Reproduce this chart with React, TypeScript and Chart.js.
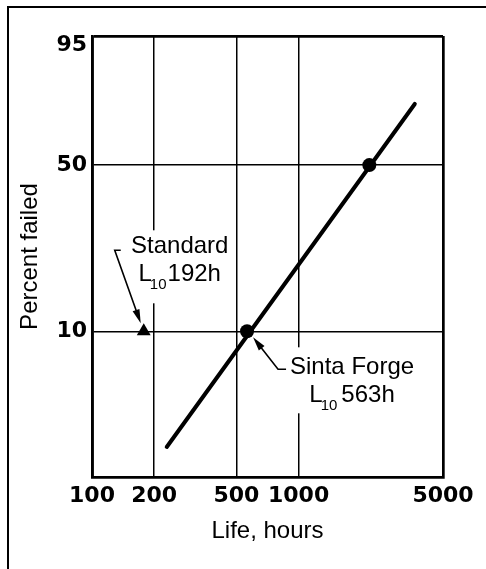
import React, { useEffect, useRef } from 'react';
import { Chart, registerables, LinearScale } from 'chart.js';

// ---- data ----
const X_TICKS = [100, 200, 500, 1000, 5000];
const Y_TICKS = [10, 50, 95];
const X_MIN = 100;
const X_MAX = 5000;
const Y_MIN = 2;
const Y_MAX = 95;

const SINTA_FIT_HOURS = [230, 3650];
const SINTA_FIT_PCT = [2.8, 75];
const SINTA_HOURS = [563, 2200];
const SINTA_PCT = [10, 50];
const STANDARD_HOURS = [178];
const STANDARD_PCT = [10];

const STANDARD_LABEL = ['Standard', 'L', '10', '192h'];
const SINTA_LABEL = ['Sinta Forge', 'L', '10', '563h'];
const X_TITLE = 'Life, hours';
const Y_TITLE = 'Percent failed';

// ---- Weibull probability scale ----
const weib = (p: number) => Math.log(-Math.log(1 - p / 100));

class WeibullScale extends LinearScale {
  static id = 'weibull';
  static defaults = {};
  determineDataLimits() {
    const o: any = this.options;
    this.min = o.min;
    this.max = o.max;
  }
  buildTicks() {
    const o: any = this.options;
    const vals: number[] = o.tickValues || Y_TICKS;
    return vals.map((v) => ({ value: v }));
  }
  getPixelForValue(value: number) {
    const a = weib(this.min);
    const b = weib(this.max);
    return this.getPixelForDecimal((weib(value) - a) / (b - a));
  }
  getValueForPixel(pixel: number) {
    const a = weib(this.min);
    const b = weib(this.max);
    const w = a + this.getDecimalForPixel(pixel) * (b - a);
    return 100 * (1 - Math.exp(-Math.exp(w)));
  }
}

Chart.register(...registerables, WeibullScale as any);

const TEXT_FAMILY = '"Liberation Sans", Arial, Helvetica, sans-serif';
const MAIN_FONT = `24px ${TEXT_FAMILY}`;
const SUB_FONT = `15px ${TEXT_FAMILY}`;
const TICK_FONT = { family: '"DejaVu Sans", sans-serif', size: 22, weight: 'bold' };

// callouts anchored to data points (offsets in px from the marker)
const CALLOUTS = [
  {
    dataset: 2,
    index: 0,
    text: STANDARD_LABEL,
    tx: 36,
    ty1: -78,
    ty2: -50,
    box: [-18, -101, 108, 73],
    hook: [-23, -81],
    corner: [-29, -81],
    tip: [-3, -8],
    gap: 1,
  },
  {
    dataset: 1,
    index: 0,
    text: SINTA_LABEL,
    tx: 105,
    ty1: 43,
    ty2: 71,
    box: [39, 16, 134, 66],
    hook: [39, 38],
    corner: [31, 38],
    tip: [6, 6],
    gap: 4,
  },
];

const calloutPlugin = {
  id: 'callouts',
  afterDatasetsDraw(chart: any) {
    const ctx: CanvasRenderingContext2D = chart.ctx;
    CALLOUTS.forEach((c) => {
      const el = chart.getDatasetMeta(c.dataset).data[c.index];
      if (!el) return;
      const px = el.x;
      const py = el.y;
      ctx.save();
      ctx.fillStyle = '#fff';
      ctx.fillRect(px + c.box[0], py + c.box[1], c.box[2], c.box[3]);

      ctx.fillStyle = '#000';
      ctx.textBaseline = 'alphabetic';
      ctx.textAlign = 'center';
      ctx.font = MAIN_FONT;
      ctx.fillText(c.text[0], px + c.tx, py + c.ty1);

      ctx.textAlign = 'left';
      ctx.font = MAIN_FONT;
      const wL = ctx.measureText(c.text[1]).width;
      const wR = ctx.measureText(c.text[3]).width;
      ctx.font = SUB_FONT;
      const wS = ctx.measureText(c.text[2]).width;
      const total = wL - 2 + wS + c.gap + wR;
      let x = px + c.tx - total / 2;
      const base = py + c.ty2;
      ctx.font = MAIN_FONT;
      ctx.fillText(c.text[1], x, base);
      x += wL - 2;
      ctx.font = SUB_FONT;
      ctx.fillText(c.text[2], x, base + 8);
      x += wS + c.gap;
      ctx.font = MAIN_FONT;
      ctx.fillText(c.text[3], x, base);

      // arrow
      const hx = px + c.hook[0], hy = py + c.hook[1];
      const cx = px + c.corner[0], cy = py + c.corner[1];
      const tx = px + c.tip[0], ty = py + c.tip[1];
      const dx = tx - cx, dy = ty - cy;
      const len = Math.hypot(dx, dy);
      const ux = dx / len, uy = dy / len;
      const headLen = 14, headHalf = 3.6;
      const bx = tx - ux * headLen, by = ty - uy * headLen;
      ctx.strokeStyle = '#000';
      ctx.lineWidth = 1.6;
      ctx.lineJoin = 'miter';
      ctx.beginPath();
      ctx.moveTo(hx, hy);
      ctx.lineTo(cx, cy);
      ctx.lineTo(bx + ux * 2, by + uy * 2);
      ctx.stroke();
      ctx.beginPath();
      ctx.moveTo(tx, ty);
      ctx.lineTo(bx - uy * headHalf, by + ux * headHalf);
      ctx.lineTo(bx + uy * headHalf, by - ux * headHalf);
      ctx.closePath();
      ctx.fill();
      ctx.restore();
    });
  },
};

export default function App() {
  const ref = useRef<HTMLCanvasElement | null>(null);

  useEffect(() => {
    if (!ref.current) return;
    const fitData = SINTA_FIT_HOURS.map((h, i) => ({ x: h, y: SINTA_FIT_PCT[i] }));
    const sintaData = SINTA_HOURS.map((h, i) => ({ x: h, y: SINTA_PCT[i] }));
    const stdData = STANDARD_HOURS.map((h, i) => ({ x: h, y: STANDARD_PCT[i] }));

    const edgeX = (ctx: any) =>
      ctx.tick && (ctx.tick.value === X_MIN || ctx.tick.value === X_MAX) ? 2.7 : 1.5;
    const edgeY = (ctx: any) =>
      ctx.tick && (ctx.tick.value === Y_MAX || ctx.tick.value === Y_MIN) ? 2.7 : 1.5;

    const chart = new Chart(ref.current, {
      type: 'scatter',
      data: {
        datasets: [
          {
            label: 'Sinta Forge fit',
            data: fitData,
            showLine: true,
            borderColor: '#000',
            backgroundColor: '#000',
            borderWidth: 4,
            borderCapStyle: 'round',
            pointRadius: 0,
          },
          {
            label: 'Sinta Forge',
            data: sintaData,
            showLine: false,
            pointStyle: 'circle',
            pointRadius: 7,
            borderWidth: 0,
            backgroundColor: '#000',
            borderColor: '#000',
          },
          {
            label: 'Standard',
            data: stdData,
            showLine: false,
            pointStyle: 'triangle',
            pointRadius: 8,
            borderWidth: 0,
            backgroundColor: '#000',
            borderColor: '#000',
          },
        ],
      } as any,
      options: {
        responsive: false,
        animation: false,
        devicePixelRatio: 1,
        layout: { padding: { top: 36, right: 43, left: 0, bottom: 0 } },
        plugins: {
          legend: { display: false },
          tooltip: { enabled: false },
        },
        scales: {
          x: {
            type: 'logarithmic',
            position: 'bottom',
            min: X_MIN,
            max: X_MAX,
            afterBuildTicks: (s: any) => {
              s.ticks = X_TICKS.map((v) => ({ value: v }));
            },
            afterFit: (s: any) => {
              s.height = 92;
            },
            grid: { color: '#000', lineWidth: edgeX, drawTicks: false },
            border: { display: true, color: '#000', width: 2.7 },
            ticks: {
              autoSkip: false,
              maxRotation: 0,
              minRotation: 0,
              padding: 6,
              color: '#000',
              font: TICK_FONT,
              callback: (v: any) => String(v),
            },
            title: {
              display: true,
              text: X_TITLE,
              color: '#000',
              font: { family: TEXT_FAMILY, size: 24 },
              padding: { top: 0, bottom: 23.6 },
            },
          },
          y: {
            type: 'weibull',
            position: 'left',
            min: Y_MIN,
            max: Y_MAX,
            tickValues: Y_TICKS,
            afterFit: (s: any) => {
              s.width = 92;
            },
            grid: { color: '#000', lineWidth: edgeY, drawTicks: false },
            border: { display: true, color: '#000', width: 2.7 },
            ticks: {
              autoSkip: false,
              padding: 5,
              color: '#000',
              font: { ...TICK_FONT, lineHeight: 0.85 },
              callback: (v: any, i: number, ticks: any[]) =>
                i === ticks.length - 1 ? ['', String(v)] : String(v),
            },
            title: {
              display: true,
              text: Y_TITLE,
              color: '#000',
              font: { family: TEXT_FAMILY, size: 24 },
              padding: { top: 15.6, bottom: 0 },
            },
          },
        } as any,
      },
      plugins: [calloutPlugin],
    } as any);
    return () => chart.destroy();
  }, []);

  return (
    <div
      style={{
        position: 'absolute',
        left: 0,
        top: 0,
        width: 486,
        height: 569,
        background: '#fff',
        overflow: 'hidden',
      }}
    >
      <div
        style={{
          position: 'absolute',
          left: 7,
          top: 6,
          right: 0,
          bottom: 0,
          borderLeft: '2px solid #000',
          borderTop: '2px solid #000',
        }}
      />
      <canvas
        ref={ref}
        width={486}
        height={569}
        style={{ position: 'absolute', left: 0, top: 0, width: 486, height: 569 }}
      />
    </div>
  );
}
